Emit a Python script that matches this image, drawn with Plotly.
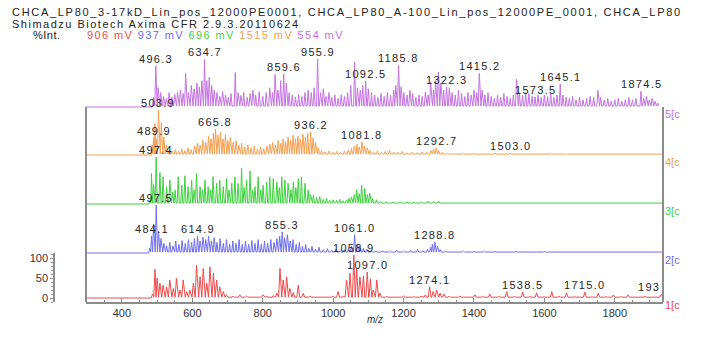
import plotly.graph_objects as go

# ---------------- data (m/z, %Int.) ----------------
mz_purple = [490, 496.3, 503, 510, 518, 526, 534, 542, 550, 558,
             566, 574, 581, 589, 597, 605, 613, 620, 627, 634.7,
             641, 648, 655, 662, 670, 678, 686, 694, 702, 710,
             722, 730, 738, 746, 756, 764, 772, 780, 790, 800,
             810, 820, 828, 835, 843, 851, 859.6, 867, 875, 884,
             893, 902, 911, 920, 929, 938, 946, 955.9, 964, 972,
             980, 988, 996, 1005, 1014, 1023, 1032, 1041, 1050, 1061,
             1069, 1077, 1084, 1092.5, 1100, 1109, 1118, 1127, 1136, 1145,
             1154, 1163, 1172, 1178, 1185.8, 1193, 1201, 1210, 1218, 1226,
             1235, 1244, 1253, 1262, 1270, 1277, 1285, 1291, 1299, 1306,
             1314, 1322.3, 1330, 1338, 1347, 1356, 1365, 1374, 1383, 1392,
             1400, 1408, 1415.2, 1423, 1431, 1440, 1449, 1458, 1467, 1476,
             1485, 1494, 1503, 1512, 1521, 1529, 1538, 1547, 1556, 1565,
             1573.5, 1582, 1591, 1600, 1609, 1618, 1627, 1636, 1645.1, 1653,
             1662, 1671, 1680, 1690, 1700, 1710, 1720, 1730, 1740, 1752,
             1760, 1770, 1780, 1790, 1800, 1810, 1820, 1830, 1840, 1850,
             1860, 1874.5, 1882, 1890, 1898, 1906, 1914, 1922]
int_purple = [20, 86, 40, 30, 22, 18, 30, 20, 26, 30,
              35, 28, 70, 30, 45, 38, 50, 42, 55, 100,
              55, 62, 45, 35, 30, 22, 32, 25, 20, 28,
              72, 30, 24, 30, 20, 28, 35, 25, 32, 22,
              30, 40, 30, 68, 35, 55, 69, 50, 30, 25,
              20, 26, 22, 30, 35, 30, 40, 100, 30, 38,
              22, 30, 20, 25, 18, 26, 22, 30, 45, 94,
              40, 35, 45, 54, 38, 30, 25, 20, 28, 22,
              30, 25, 35, 45, 87, 42, 30, 25, 35, 28,
              20, 25, 22, 31, 25, 52, 35, 55, 73, 50,
              35, 42, 40, 30, 25, 35, 28, 22, 30, 25,
              35, 30, 70, 35, 25, 30, 22, 18, 25, 20,
              28, 22, 18, 25, 58, 30, 25, 30, 28, 22,
              21, 25, 20, 25, 22, 28, 20, 25, 48, 25,
              20, 18, 22, 15, 20, 15, 18, 22, 20, 35,
              20, 15, 18, 12, 15, 18, 12, 15, 20, 15,
              18, 33, 18, 22, 15, 18, 12, 8]

mz_orange = [486, 489.9, 494, 498, 503.9, 512, 519, 526, 534,
             543, 552, 561, 570, 579, 588, 597, 606, 614, 622,
             630, 638, 646, 653, 660, 665.8, 673, 680, 687, 694,
             701, 708, 716, 724, 732, 740, 749, 758, 767, 776,
             785, 794, 803, 812, 820, 828, 836, 844, 851, 858,
             865, 872, 879, 886, 893, 900, 907, 914, 921, 928,
             936.2, 943, 950, 958, 967, 977, 988, 999, 1010, 1021,
             1032, 1043, 1052, 1060, 1068, 1074, 1081.8, 1089, 1097, 1105,
             1115, 1126, 1137, 1148, 1160, 1172, 1184, 1196, 1210, 1224,
             1238, 1252, 1266, 1278, 1285, 1292.7, 1300, 1310, 1325, 1345,
             1370, 1400, 1430, 1460, 1503.0, 1540, 1580, 1620, 1660, 1700,
             1760, 1820, 1880, 1920]
int_orange = [22, 38, 70, 35, 100, 72, 40, 22, 12,
              9, 12, 9, 14, 10, 16, 12, 20, 26, 22,
              33, 28, 42, 36, 48, 58, 44, 50, 36, 45,
              32, 40, 28, 32, 22, 26, 18, 22, 16, 20,
              14, 18, 14, 20, 24, 28, 22, 32, 26, 36,
              30, 40, 33, 44, 36, 42, 35, 46, 40, 48,
              51, 38, 28, 16, 10, 7, 9, 6, 8, 6,
              9, 12, 15, 20, 24, 18, 29, 20, 16, 10,
              7, 9, 6, 8, 10, 7, 6, 8, 5, 6,
              5, 7, 6, 10, 13, 16, 10, 6, 4, 3,
              4, 3, 3, 4, 4.4, 3, 3, 4, 3, 3,
              3, 3, 3, 3]

mz_green = [480, 484, 490, 497.4, 508, 517, 527, 536, 544, 551,
            560, 570, 579, 588, 598, 605, 612, 622, 629, 636,
            645, 652, 659, 669, 678, 688, 697, 704, 712, 721,
            730, 740, 747, 754, 764, 771, 778, 787, 794, 801,
            811, 820, 830, 840, 847, 854, 863, 872, 880, 887,
            894, 901, 910, 920, 929, 936, 944, 953, 962, 972,
            981, 990, 1000, 1010, 1019, 1028, 1038, 1045, 1052, 1060,
            1067, 1074, 1081, 1090, 1097, 1104, 1112, 1123, 1135, 1150,
            1170, 1190, 1210, 1230, 1250, 1270, 1285, 1300, 1330, 1380,
            1430, 1480, 1530, 1600, 1700, 1800, 1900]
int_green = [10, 65, 40, 100, 67, 58, 37, 51, 25, 30,
             58, 40, 60, 37, 51, 30, 65, 37, 30, 51,
             37, 30, 58, 44, 51, 37, 54, 30, 44, 58,
             44, 76, 35, 51, 70, 30, 37, 58, 30, 40,
             47, 58, 54, 47, 35, 58, 51, 44, 30, 47,
             35, 54, 58, 44, 30, 20, 19, 14, 16, 10,
             12, 8, 9, 8, 10, 7, 9, 12, 15, 20,
             30, 22, 40, 33, 20, 23, 12, 9, 5, 4,
             5, 4, 5, 4, 5, 6, 5, 6, 3, 3,
             3, 3, 3, 2, 2, 2, 2]

mz_blue = [479, 484.1, 490, 497.5, 504, 511, 519, 527, 536, 545,
           553, 562, 571, 580, 589, 598, 606, 614.9, 622, 630,
           638, 646, 654, 662, 670, 679, 688, 697, 706, 715,
           724, 733, 742, 751, 760, 769, 778, 787, 796, 805,
           814, 823, 832, 840, 848, 855.3, 862, 870, 878, 886,
           895, 904, 913, 922, 931, 940, 950, 960, 972, 984,
           996, 1008, 1020, 1032, 1044, 1052, 1061.0, 1069, 1077, 1086,
           1096, 1108, 1122, 1140, 1160, 1180, 1200, 1220, 1240, 1255,
           1268, 1277, 1282, 1288.8, 1296, 1304, 1320, 1345, 1370, 1400,
           1430, 1460, 1490, 1520, 1600, 1700, 1800, 1900]
int_blue = [10, 35, 60, 100, 45, 30, 20, 15, 22, 15,
            25, 18, 26, 20, 28, 22, 30, 35, 25, 33,
            28, 35, 25, 32, 22, 30, 20, 28, 18, 25,
            20, 28, 18, 25, 18, 26, 20, 28, 18, 25,
            20, 28, 22, 30, 35, 44, 32, 38, 25, 28,
            18, 22, 14, 18, 10, 14, 8, 12, 7, 9,
            6, 8, 5, 7, 10, 14, 38.5, 18, 12, 10,
            8, 5, 4, 5, 4, 6, 4, 5, 7, 5,
            8, 12, 18, 23, 14, 7, 4, 3, 4, 3,
            4, 3, 3, 4, 3, 3, 3, 3]

mz_red = [487, 494, 500, 508, 517, 527, 536, 546, 555, 565,
          574, 584, 593, 603, 612, 622, 631, 641, 650, 660,
          669, 678, 688, 697, 716, 735, 754, 773, 801, 811,
          830, 840, 849, 858, 868, 877, 887, 901, 915, 934,
          962, 1000, 1014, 1029, 1038, 1048, 1058.9, 1067, 1076, 1086,
          1097.0, 1106, 1114, 1124, 1133, 1152, 1171, 1200, 1230, 1250,
          1262, 1274.1, 1284, 1294, 1304, 1315, 1330, 1360, 1380, 1403,
          1425, 1445, 1470, 1493, 1515, 1538.5, 1560, 1578, 1600, 1621,
          1642, 1663, 1685, 1715.0, 1735, 1753, 1775, 1796, 1818, 1838,
          1860, 1886, 1910, 1932]
int_red = [10, 72, 50, 37, 32, 28, 45, 24, 49, 20,
           45, 16, 20, 37, 82, 53, 74, 37, 78, 62,
           45, 28, 16, 8, 4, 8, 5, 3, 8, 4,
           6, 12, 74, 45, 53, 24, 14, 32, 12, 4,
           3, 5, 16, 4, 45, 62, 107, 74, 53, 55,
           65, 48, 20, 45, 12, 4, 2, 5, 3, 4,
           8, 28, 16, 20, 12, 10, 4, 5, 3, 8,
           3, 10, 4, 16, 4, 15, 4, 13, 3, 16,
           4, 13, 3, 15, 3, 12, 3, 7.5, 3, 8,
           2, 5, 2, 9]

# peak labels (m/z of labelled peak, shown text)
lab_purple = [496.3, 634.7, 859.6, 955.9, 1092.5, 1185.8, 1322.3, 1415.2, 1573.5, 1645.1, 1874.5]
lab_orange = [503.9, 489.9, 665.8, 936.2, 1081.8, 1292.7, 1503.0]
lab_green = [497.4]
lab_blue = [497.5, 484.1, 614.9, 855.3, 1061.0, 1288.8]
lab_red = [1058.9, 1097.0, 1274.1, 1538.5, 1715.0, 1932]
lab_red_text = ["1058.9", "1097.0", "1274.1", "1538.5", "1715.0", "193"]

header1 = "CHCA_LP80_3-17kD_Lin_pos_12000PE0001, CHCA_LP80_A-100_Lin_pos_12000PE_0001, CHCA_LP80"
header2 = "Shimadzu Biotech Axima CFR 2.9.3.20110624"
mv_values = ["906 mV", "937 mV", "696 mV", "1515 mV", "554 mV"]
trace_tags = ["1[c", "2[c", "3[c", "4[c", "5[c"]
x_ticks = [400, 600, 800, 1000, 1200, 1400, 1600, 1800]
y_ticks = [0, 50, 100]

# ---------------- layout geometry ----------------
W, H = 725, 340
TOP, BOT = 30, 302
LEFT, RIGHT = 86, 663
XMIN, XMAX = 298, 1937
FONT = "Liberation Sans, Arial, sans-serif"


def fy(py):
    return (BOT - py) / (BOT - TOP)


def fx(px):
    return px / W


def spaced(txt, ls, color=None):
    st = f"letter-spacing:{ls}px"
    if color:
        st = f"color:{color};" + st
    return f"<span style='{st}'>{txt}</span>"


def profile(mz, inten, w, floor, to_edge=True):
    xs = [XMIN, mz[0] - w]
    ys = [0, 0]
    for i, (m, h) in enumerate(zip(mz, inten)):
        if i > 0:
            prev = mz[i - 1]
            if m - prev < 2 * w:
                xs.append((m + prev) / 2)
                ys.append(floor)
            else:
                xs += [prev + w, m - w]
                ys += [floor, floor]
        xs.append(m)
        ys.append(h)
    xs.append(mz[-1] + w)
    ys.append(floor)
    if to_edge:
        xs.append(XMAX)
        ys.append(floor)
    return xs, ys


# name, axis id, colour, baseline px, 100% px, domain bottom px, domain top px, peak half-width
panels = [
    ("red", "y", "#f04a4a", 298, 258, 302, 253, 4.0, mz_red, int_red, lab_red, lab_red_text, True),
    ("blue", "y2", "#6e6ef0", 253, 205, 255, TOP, 3.0, mz_blue, int_blue, lab_blue, None, True),
    ("green", "y3", "#3fd03f", 204, 157, 206, TOP, 3.0, mz_green, int_green, lab_green, None, True),
    ("orange", "y4", "#f5a050", 155, 110, 157, TOP, 3.0, mz_orange, int_orange, lab_orange, None, True),
    ("purple", "y5", "#c474e0", 107, 59, 109, TOP, 3.0, mz_purple, int_purple, lab_purple, None, False),
]

fig = go.Figure()
annotations = []
layout_axes = {}

for k, (name, yid, col, B, P100, Db, Dt, w, mz, it, labs, labtxt, edge) in enumerate(panels):
    xs, ys = profile(mz, it, w, 2, edge)
    fig.add_trace(go.Scatter(x=xs, y=ys, mode="lines", xaxis="x", yaxis=yid,
                             line=dict(color=col, width=1), hoverinfo="skip", showlegend=False))
    s = (B - P100) / 100.0
    rng = [-(Db - B) / s, (B - Dt) / s]
    key = "yaxis" if yid == "y" else "yaxis" + yid[1:]
    ax = dict(domain=[fy(Db), fy(Dt)], range=rng, fixedrange=True, showgrid=False, zeroline=False)
    if yid == "y":
        ax.update(anchor="free", position=fx(54), side="left", showline=True,
                  linecolor="#8c8c8c", linewidth=1.5, ticks="outside", ticklen=3,
                  tickcolor="#8c8c8c", tickvals=y_ticks,
                  tickfont=dict(family=FONT, size=11, color="#333"),
                  minor=dict(ticks="outside", ticklen=2, dtick=10, tickcolor="#8c8c8c"))
    else:
        ax.update(anchor="x", visible=False)
    layout_axes[key] = ax

    # peak labels
    for j, m in enumerate(labs):
        h = it[mz.index(m)]
        txt = labtxt[j] if labtxt else f"{m:.1f}"
        annotations.append(dict(x=m, y=h, xref="x", yref=yid, text=spaced(txt, 1.3), showarrow=False,
                                xanchor="right" if txt == "193" else "center",
                                yanchor="bottom", borderpad=0,
                                font=dict(family=FONT, size=11, color="#262626")))
    # trace tag on the right
    annotations.append(dict(x=fx(RIGHT + 1), y=fy(B + 7), xref="paper", yref="paper",
                            text=trace_tags[k], showarrow=False, xanchor="left", yanchor="middle",
                            borderpad=0, font=dict(family=FONT, size=11, color=col)))

# header texts
annotations.append(dict(x=fx(11), y=fy(12.5), xref="paper", yref="paper", text=spaced(header1, 1.7),
                        showarrow=False, xanchor="left", yanchor="middle", borderpad=0,
                        font=dict(family=FONT, size=11, color="#222")))
annotations.append(dict(x=fx(11), y=fy(24), xref="paper", yref="paper", text=spaced(header2, 1.5),
                        showarrow=False, xanchor="left", yanchor="middle", borderpad=0,
                        font=dict(family=FONT, size=11, color="#222")))
annotations.append(dict(x=fx(32), y=fy(34.5), xref="paper", yref="paper", text=spaced("%Int.", 0.5),
                        showarrow=False, xanchor="left", yanchor="middle", borderpad=0,
                        font=dict(family=FONT, size=11, color="#222")))
mv_colors = [p[2] for p in panels]
mv_text = "".join(spaced(t + " ", 1.4, c) for t, c in zip(mv_values, mv_colors))
annotations.append(dict(x=fx(86), y=fy(34.5), xref="paper", yref="paper", text=mv_text,
                        showarrow=False, xanchor="left", yanchor="middle", borderpad=0,
                        font=dict(family=FONT, size=11, color="#222")))
# axis title
annotations.append(dict(x=(LEFT + RIGHT) / 2 / W, y=fy(319), xref="paper", yref="paper",
                        text="<i>m/z</i>", showarrow=False, xanchor="center", yanchor="middle",
                        borderpad=0, font=dict(family=FONT, size=10, color="#333")))

shapes = [
    dict(type="line", xref="paper", yref="paper", x0=fx(LEFT), x1=fx(LEFT), y0=0, y1=fy(107),
         line=dict(color="#8c8c8c", width=2)),
    dict(type="line", xref="paper", yref="paper", x0=fx(RIGHT), x1=fx(RIGHT), y0=0, y1=fy(107),
         line=dict(color="#8c8c8c", width=2)),
]

fig.update_layout(
    width=W, height=H, autosize=False,
    margin=dict(l=0, r=0, t=TOP, b=H - BOT, pad=0),
    paper_bgcolor="white", plot_bgcolor="rgba(0,0,0,0)",
    showlegend=False,
    xaxis=dict(domain=[fx(LEFT), fx(RIGHT)], range=[XMIN, XMAX], anchor="y",
               showline=True, linecolor="#8c8c8c", linewidth=1.5, showgrid=False, zeroline=False,
               ticks="inside", ticklen=4, tickcolor="#8c8c8c", tickvals=x_ticks,
               tickfont=dict(family=FONT, size=11, color="#333"),
               minor=dict(ticks="inside", ticklen=2, dtick=50, tickcolor="#8c8c8c"),
               fixedrange=True),
    annotations=annotations,
    shapes=shapes,
    **layout_axes,
)

fig.write_html("out.html")
